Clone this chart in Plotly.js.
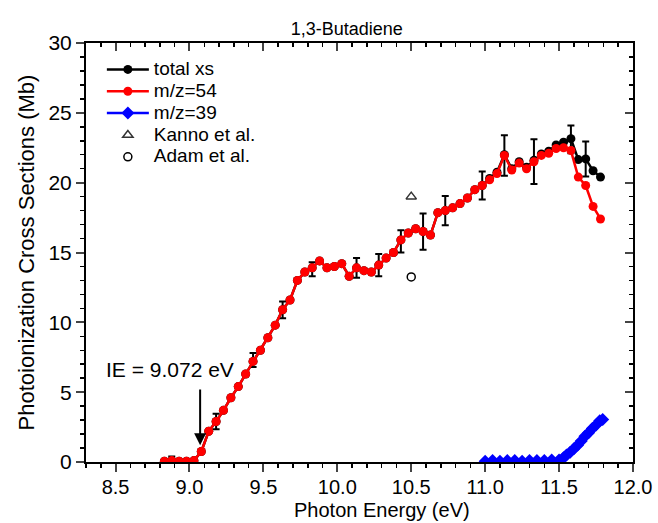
<!DOCTYPE html>
<html>
<head>
<meta charset="utf-8">
<script src="https://cdn.plot.ly/plotly-3.0.1.min.js"></script>
<style>html,body{margin:0;padding:0;background:#fff;}#chart{width:658px;height:523px;}</style>
</head>
<body>
<div id="chart"></div>
<script>
// ---- data ----
const energy = [8.83, 8.88, 8.93, 8.98, 9.03, 9.08, 9.13, 9.18, 9.23, 9.28,
  9.33, 9.38, 9.43, 9.48, 9.53, 9.58, 9.63, 9.68, 9.73, 9.78,
  9.83, 9.88, 9.93, 9.98, 10.03, 10.08, 10.13, 10.18, 10.23, 10.28,
  10.33, 10.38, 10.43, 10.48, 10.53, 10.58, 10.63, 10.68, 10.73, 10.78,
  10.83, 10.88, 10.93, 10.98, 11.03, 11.08, 11.13, 11.18, 11.23, 11.28,
  11.33, 11.38, 11.43, 11.48, 11.53, 11.58, 11.63, 11.68, 11.73, 11.78];
const mz54 = [0.05, 0.1, 0.05, 0.05, 0.1, 0.75, 2.2, 2.9, 3.7, 4.6,
  5.4, 6.3, 7.2, 8.0, 8.9, 9.8, 10.9, 11.6, 13.0, 13.6,
  13.9, 14.4, 13.9, 14.0, 14.2, 13.3, 13.9, 13.7, 13.6, 14.1,
  14.6, 15.0, 15.9, 16.4, 16.7, 16.5, 16.25, 17.85, 18.0, 18.2,
  18.5, 18.9, 19.5, 19.8, 20.2, 20.65, 21.95, 20.9, 21.4, 21.0,
  21.5, 21.95, 22.1, 22.45, 22.5, 22.3, 20.4, 19.8, 18.3, 17.4];
const totalXS = [0.05, 0.1, 0.05, 0.05, 0.1, 0.75, 2.2, 2.9, 3.7, 4.6,
  5.4, 6.3, 7.2, 8.0, 8.9, 9.8, 10.9, 11.6, 13.0, 13.6,
  13.9, 14.4, 13.9, 14.0, 14.2, 13.3, 13.9, 13.7, 13.6, 14.1,
  14.6, 15.0, 15.9, 16.4, 16.7, 16.5, 16.25, 17.85, 18.0, 18.2,
  18.5, 18.9, 19.5, 19.8, 20.3, 20.75, 22.0, 21.0, 21.5, 21.1,
  21.6, 22.05, 22.25, 22.7, 22.9, 23.15, 21.65, 21.7, 20.85, 20.4];
const errEnergy = [8.88, 9.18, 9.43, 9.63, 9.83, 10.13, 10.28, 10.43, 10.58, 10.73, 10.98, 11.13, 11.33, 11.58, 11.68];
const errCenter = [0.1, 2.9, 7.3, 10.9, 13.8, 13.9, 14.1, 15.8, 16.5, 18.0, 19.8, 21.95, 21.5, 23.1, 21.7];
const errHalf =   [0.3, 0.55, 0.5, 0.6, 0.5, 0.7, 0.8, 0.8, 1.3, 1.05, 1.0, 1.45, 1.6, 1.0, 1.25];
const energy39 = [11.0, 11.05, 11.1, 11.15, 11.2, 11.25, 11.3, 11.35, 11.4, 11.45,
  11.5, 11.53, 11.55, 11.575, 11.6, 11.625, 11.65, 11.675, 11.7, 11.725,
  11.75, 11.775, 11.795];
const mz39 = [0.05, 0.1, 0.05, 0.1, 0.1, 0.05, 0.1, 0.1, 0.1, 0.15,
  0.15, 0.3, 0.5, 0.7, 0.95, 1.2, 1.5, 1.85, 2.1, 2.4,
  2.65, 2.95, 3.05];
const kannoE = [10.5], kannoXS = [19.0];
const adamE = [10.5], adamXS = [13.25];
const ieValue = 9.072;
const seriesNames = ['total xs', 'm/z=54', 'm/z=39', 'Kanno et al.', 'Adam et al.'];
const xTitle = 'Photon Energy (eV)';
const yTitle = 'Photoionization Cross Sections (Mb)';
const chartTitle = '1,3-Butadiene';

const FONT = 'Liberation Sans, Arial, sans-serif';
const leg = s => '<span style="font-size:19px">' + s + '</span>';

const traces = [
  { x: energy, y: totalXS, name: leg(seriesNames[0]), mode: 'lines+markers',
    line: { color: '#000000', width: 2.5 }, marker: { color: '#000000', size: 9, symbol: 'circle' } },
  { x: errEnergy, y: errCenter, mode: 'markers', showlegend: false, hoverinfo: 'skip',
    marker: { size: 1, color: 'rgba(0,0,0,0)' },
    error_y: { type: 'data', array: errHalf, visible: true, color: '#000000', thickness: 2, width: 3.5 } },
  { x: energy, y: mz54, name: leg(seriesNames[1]), mode: 'lines+markers',
    line: { color: '#ff0000', width: 2.5 }, marker: { color: '#ff0000', size: 9, symbol: 'circle' } },
  { x: energy39, y: mz39, name: leg(seriesNames[2]), mode: 'lines+markers',
    line: { color: '#0000ff', width: 2.5 }, marker: { color: '#0000ff', size: 10, symbol: 'diamond' } },
  { x: kannoE, y: kannoXS, name: leg(seriesNames[3]), mode: 'markers',
    marker: { color: '#333333', size: 9, symbol: 'triangle-up-open', line: { width: 1.5 } } },
  { x: adamE, y: adamXS, name: leg(seriesNames[4]), mode: 'markers',
    marker: { color: '#000000', size: 8, symbol: 'circle-open', line: { width: 1.5 } } },
  { x: [null], y: [null], xaxis: 'x2', yaxis: 'y2', showlegend: false, hoverinfo: 'skip', mode: 'markers' }
];

const xr = [8.3, 12.0], yr = [0, 30];
const layout = {
  width: 658, height: 523,
  margin: { l: 86, r: 25, t: 43, b: 61 },
  paper_bgcolor: '#ffffff', plot_bgcolor: '#ffffff',
  font: { family: FONT, color: '#000000', size: 20 },
  title: { text: chartTitle, font: { size: 18, family: FONT }, x: 0.527, xanchor: 'center', y: 0.946, yanchor: 'middle' },
  showlegend: true,
  legend: { x: 0.029, xanchor: 'left', y: 0.975, yanchor: 'top', bgcolor: 'rgba(0,0,0,0)',
    font: { size: 14.5, family: FONT }, tracegroupgap: 0, itemwidth: 42 },
  xaxis: {
    range: xr, dtick: 0.5, tick0: 0, tickformat: '.1f', ticks: 'outside', ticklen: 8, tickwidth: 2,
    showline: true, linewidth: 2, linecolor: '#000', showgrid: false, zeroline: false,
    minor: { dtick: 0.1, tick0: 0, ticks: 'outside', ticklen: 4, tickwidth: 1.5, tickcolor: '#000', showgrid: false },
    tickfont: { size: 20 }, ticklabelstandoff: -2
  },
  yaxis: {
    range: yr, dtick: 5, ticks: 'outside', ticklen: 8, tickwidth: 2,
    showline: true, linewidth: 2, linecolor: '#000', showgrid: false, zeroline: false,
    minor: { dtick: 1, ticks: 'outside', ticklen: 4, tickwidth: 1.5, tickcolor: '#000', showgrid: false },
    tickfont: { size: 21 },
    title: { text: yTitle, font: { size: 22 }, standoff: 8 }
  },
  xaxis2: {
    overlaying: 'x', side: 'top', anchor: 'y2', range: xr, dtick: 0.5, tick0: 0,
    ticks: 'inside', ticklen: 8, tickwidth: 2, showticklabels: false,
    showline: true, linewidth: 2, linecolor: '#000', showgrid: false, zeroline: false,
    minor: { dtick: 0.1, tick0: 0, ticks: 'inside', ticklen: 4, tickwidth: 1.5, tickcolor: '#000', showgrid: false }
  },
  yaxis2: {
    overlaying: 'y', side: 'right', anchor: 'x2', range: yr, dtick: 5,
    ticks: 'inside', ticklen: 8, tickwidth: 2, showticklabels: false,
    showline: true, linewidth: 2, linecolor: '#000', showgrid: false, zeroline: false,
    minor: { dtick: 1, ticks: 'inside', ticklen: 4, tickwidth: 1.5, tickcolor: '#000', showgrid: false }
  },
  annotations: [
    { x: ieValue, y: 1.2, ax: ieValue, ay: 5.3, xref: 'x', yref: 'y', axref: 'x', ayref: 'y',
      text: '', showarrow: true, arrowhead: 2, arrowsize: 1.2, arrowwidth: 2, arrowcolor: '#000' },
    { x: 8.866, y: 6.6, xref: 'x', yref: 'y', text: 'IE = ' + ieValue.toFixed(3) + ' eV',
      showarrow: false, font: { size: 21, family: FONT }, xanchor: 'center', yanchor: 'middle' },
    { x: 0.541, y: -0.1146, xref: 'paper', yref: 'paper', text: xTitle, showarrow: false,
      font: { size: 20, family: FONT }, xanchor: 'center', yanchor: 'middle' }
  ]
};

Plotly.newPlot('chart', traces, layout, { displayModeBar: false, staticPlot: true });
</script>
</body>
</html>
